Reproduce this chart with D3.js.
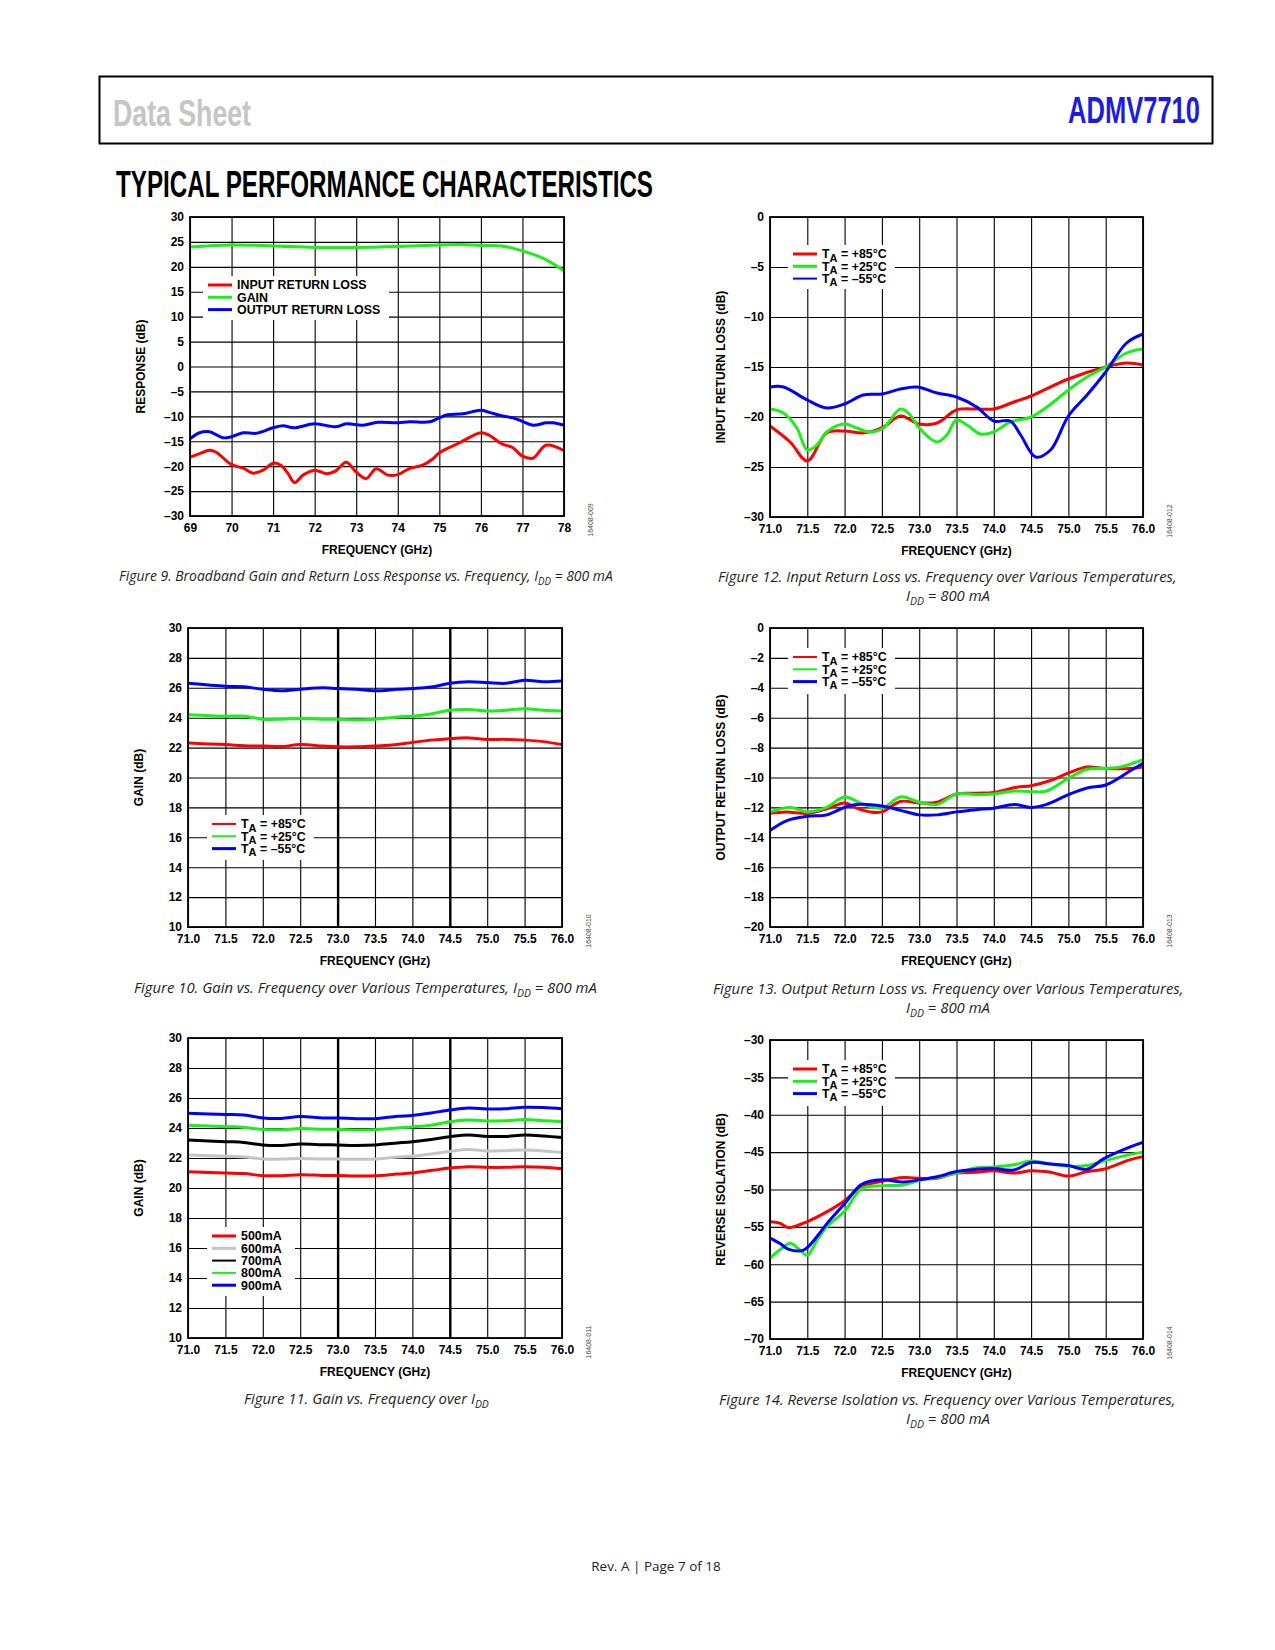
<!DOCTYPE html>
<html>
<head>
<meta charset="utf-8">
<title>ADMV7710 typical performance characteristics</title>
<script src="https://cdn.jsdelivr.net/npm/d3@7/dist/d3.min.js"></script>
<style>
  body { margin: 0; background: #fff; }
  text { font-family: "Liberation Sans", Arial, sans-serif; fill: #000; }
  .tick text { font-size: 12px; font-weight: bold; }
  .ttl { font-size: 12px; font-weight: bold; }
  .leg { font-size: 12.4px; font-weight: bold; }
  .code { font-size: 7px; fill: #444; }
  .cap { font-family: "Open Sans", sans-serif; font-style: italic; font-size: 15px; fill: #231f20; }
</style>
</head>
<body>
<svg id="page" width="1275" height="1650"></svg>
<script>

// ---- figure 9: broadband response, 69 to 78 GHz
let f9_irl_freq = [69.0, 69.23, 69.47, 69.63, 70.0, 70.28, 70.52, 70.76, 71.0, 71.2, 71.36, 71.52, 71.72, 72.0, 72.28, 72.5, 72.76, 73.0, 73.24, 73.48, 73.76, 74.0, 74.28, 74.6, 74.85, 75.0, 75.49, 76.0, 76.2, 76.5, 76.77, 77.0, 77.25, 77.57, 78.0];
let f9_irl = [-18.2, -17.5, -16.8, -17.2, -19.7, -20.4, -21.4, -20.8, -19.4, -19.9, -21.5, -23.3, -21.8, -20.8, -21.5, -21.0, -19.2, -21.2, -22.5, -20.5, -21.8, -21.7, -20.5, -19.8, -18.5, -17.3, -15.3, -13.3, -13.8, -15.5, -16.3, -18.0, -18.4, -15.8, -16.9];
let f9_gain_freq = [69.0, 70.0, 71.0, 72.0, 73.0, 74.0, 75.0, 75.5, 76.0, 76.5, 77.0, 77.5, 78.0];
let f9_gain = [24.0, 24.4, 24.2, 23.9, 23.9, 24.1, 24.4, 24.5, 24.3, 24.2, 23.2, 21.7, 19.2];
let f9_orl_freq = [69.0, 69.23, 69.47, 69.59, 69.79, 70.0, 70.28, 70.6, 71.0, 71.24, 71.5, 72.0, 72.5, 72.76, 73.16, 73.52, 74.0, 74.28, 74.77, 75.0, 75.2, 75.57, 76.0, 76.2, 76.5, 76.77, 77.0, 77.25, 77.57, 77.73, 78.0];
let f9_orl = [-14.5, -13.3, -13.1, -13.5, -14.3, -14.1, -13.3, -13.4, -12.3, -11.9, -12.3, -11.5, -12.1, -11.5, -11.8, -11.2, -11.3, -11.1, -11.1, -10.3, -9.7, -9.5, -8.8, -9.2, -9.9, -10.3, -11.0, -11.8, -11.3, -11.3, -11.8];
let f9_labels = ["INPUT RETURN LOSS", "GAIN", "OUTPUT RETURN LOSS"];

// ---- temperature labels (figs 10, 12, 13, 14)
let temp_labels = ["+85\u00b0C", "+25\u00b0C", "\u201355\u00b0C"];

// ---- figure 12: input return loss vs temperature
let f12_p85_freq = [71.0, 71.27, 71.5, 71.76, 72.0, 72.25, 72.52, 72.75, 73.0, 73.24, 73.5, 73.77, 74.0, 74.27, 74.5, 75.0, 75.5, 75.78, 76.0];
let f12_p85 = [-20.9, -22.5, -24.4, -21.6, -21.4, -21.6, -21.0, -19.9, -20.7, -20.6, -19.3, -19.2, -19.2, -18.5, -17.9, -16.2, -15.0, -14.6, -14.8];
let f12_p25_freq = [71.0, 71.18, 71.36, 71.5, 71.63, 71.76, 72.0, 72.16, 72.34, 72.52, 72.75, 72.88, 73.0, 73.24, 73.37, 73.5, 73.64, 73.82, 74.0, 74.22, 74.5, 74.75, 75.0, 75.25, 75.5, 75.78, 76.0];
let f12_p25 = [-19.2, -19.6, -21.1, -23.3, -22.8, -21.5, -20.7, -21.1, -21.5, -21.1, -19.2, -19.8, -21.1, -22.5, -21.8, -20.3, -20.8, -21.7, -21.5, -20.5, -20.0, -18.8, -17.3, -16.0, -15.0, -13.6, -13.2];
let f12_m55_freq = [71.0, 71.18, 71.5, 71.76, 72.0, 72.25, 72.5, 72.75, 72.97, 73.24, 73.5, 73.77, 74.0, 74.22, 74.36, 74.56, 74.76, 75.0, 75.25, 75.5, 75.78, 76.0];
let f12_m55 = [-17.0, -17.0, -18.3, -19.1, -18.7, -17.8, -17.7, -17.2, -17.0, -17.6, -18.0, -19.0, -20.4, -20.4, -21.8, -24.0, -23.3, -19.9, -17.8, -15.5, -12.6, -11.7];

// ---- figures 10 and 11: gain, common frequency points
let gain_freq = [71.0, 71.5, 71.75, 72.0, 72.25, 72.5, 72.8, 73.0, 73.25, 73.5, 73.8, 74.0, 74.25, 74.5, 74.75, 75.0, 75.25, 75.5, 75.75, 76.0];
let f10_p85 = [22.3, 22.2, 22.13, 22.1, 22.07, 22.2, 22.1, 22.05, 22.05, 22.1, 22.2, 22.35, 22.5, 22.6, 22.65, 22.55, 22.55, 22.5, 22.4, 22.2];
let f10_p25 = [24.2, 24.1, 24.1, 23.9, 23.9, 23.95, 23.9, 23.9, 23.85, 23.9, 24.05, 24.1, 24.25, 24.5, 24.55, 24.45, 24.5, 24.6, 24.5, 24.45];
let f10_m55 = [26.3, 26.1, 26.07, 25.9, 25.8, 25.9, 26.0, 25.95, 25.9, 25.8, 25.9, 25.95, 26.05, 26.3, 26.4, 26.35, 26.3, 26.5, 26.4, 26.45];

let idd_labels = ["500mA", "600mA", "700mA", "800mA", "900mA"];
let f11_500 = [21.09, 21.0, 20.96, 20.82, 20.82, 20.89, 20.84, 20.84, 20.8, 20.82, 20.93, 21.0, 21.16, 21.33, 21.42, 21.38, 21.38, 21.42, 21.38, 21.29];
let f11_600 = [22.2, 22.11, 22.07, 21.93, 21.93, 21.96, 21.93, 21.93, 21.91, 21.93, 22.07, 22.11, 22.27, 22.44, 22.56, 22.47, 22.49, 22.53, 22.47, 22.36];
let f11_700 = [23.2, 23.09, 23.04, 22.87, 22.84, 22.93, 22.89, 22.87, 22.84, 22.87, 23.0, 23.09, 23.24, 23.42, 23.53, 23.44, 23.44, 23.53, 23.47, 23.36];
let f11_800 = [24.18, 24.09, 24.04, 23.9, 23.89, 23.96, 23.91, 23.91, 23.87, 23.89, 24.0, 24.07, 24.18, 24.42, 24.53, 24.47, 24.49, 24.56, 24.49, 24.42];
let f11_900 = [24.98, 24.9, 24.87, 24.67, 24.64, 24.76, 24.67, 24.67, 24.62, 24.62, 24.78, 24.84, 25.0, 25.2, 25.33, 25.27, 25.29, 25.38, 25.36, 25.29];

// ---- figure 13: output return loss vs temperature
let f13_p85_freq = [71.0, 71.22, 71.5, 71.76, 72.0, 72.16, 72.34, 72.5, 72.75, 73.0, 73.24, 73.5, 73.77, 74.0, 74.31, 74.5, 74.76, 75.0, 75.25, 75.5, 75.83, 76.0];
let f13_p85 = [-12.4, -12.3, -12.4, -12.1, -11.7, -12.05, -12.3, -12.3, -11.6, -11.7, -11.65, -11.1, -11.05, -11.0, -10.65, -10.55, -10.2, -9.7, -9.3, -9.4, -9.4, -9.3];
let f13_p25_freq = [71.0, 71.27, 71.5, 71.76, 72.0, 72.25, 72.5, 72.75, 73.0, 73.24, 73.5, 73.77, 74.0, 74.27, 74.5, 74.71, 75.0, 75.25, 75.5, 75.7, 76.0];
let f13_p25 = [-12.3, -12.0, -12.3, -12.0, -11.3, -11.8, -12.05, -11.3, -11.65, -11.8, -11.1, -11.15, -11.1, -10.9, -10.95, -10.9, -10.05, -9.45, -9.4, -9.3, -8.8];
let f13_m55_freq = [71.0, 71.22, 71.5, 71.76, 72.0, 72.16, 72.5, 72.75, 73.0, 73.24, 73.5, 73.77, 74.0, 74.27, 74.5, 74.71, 75.0, 75.25, 75.5, 75.83, 76.0];
let f13_m55 = [-13.55, -12.9, -12.6, -12.5, -12.0, -11.8, -11.9, -12.2, -12.5, -12.5, -12.3, -12.15, -12.05, -11.8, -12.0, -11.8, -11.15, -10.7, -10.5, -9.55, -9.05];

// ---- figure 14: reverse isolation vs temperature
let f14_p85_freq = [71.0, 71.13, 71.25, 71.5, 71.76, 72.0, 72.23, 72.5, 72.79, 73.0, 73.24, 73.5, 73.77, 74.0, 74.27, 74.5, 74.76, 75.0, 75.25, 75.47, 75.83, 76.0];
let f14_p85 = [-54.3, -54.5, -55.1, -54.3, -53.0, -51.5, -49.6, -48.9, -48.4, -48.5, -48.5, -47.8, -47.7, -47.5, -47.8, -47.5, -47.7, -48.2, -47.6, -47.3, -46.0, -45.6];
let f14_p25_freq = [71.0, 71.13, 71.27, 71.38, 71.5, 71.63, 71.76, 72.0, 72.23, 72.5, 72.79, 73.0, 73.24, 73.5, 73.77, 74.0, 74.27, 74.5, 74.76, 75.0, 75.25, 75.47, 75.83, 76.0];
let f14_p25 = [-59.2, -58.1, -57.2, -57.9, -58.8, -56.8, -55.0, -52.9, -49.9, -49.5, -49.4, -48.8, -48.4, -47.8, -47.1, -47.0, -46.7, -46.2, -46.6, -46.9, -46.8, -46.2, -45.3, -45.0];
let f14_m55_freq = [71.0, 71.13, 71.25, 71.45, 71.63, 71.76, 72.0, 72.23, 72.5, 72.79, 73.0, 73.24, 73.5, 73.77, 74.0, 74.27, 74.5, 74.76, 75.0, 75.25, 75.47, 75.83, 76.0];
let f14_m55 = [-56.5, -57.2, -58.0, -58.1, -56.3, -54.6, -51.9, -49.3, -48.7, -49.0, -48.7, -48.3, -47.6, -47.3, -47.2, -47.4, -46.4, -46.6, -46.8, -47.3, -45.9, -44.3, -43.7];


let svgPage = d3.select("#page");
let RED = "#ff0000", GREEN = "#19f019", BLUE = "#0000ff", GRAY = "#c4c4c4", BLACK = "#000000";

function fmt_neg(d){
    return d < 0 ? "\u2013" + Math.abs(d) : "" + d;
};

function pairs(xs, ys){
    let out = [];
    for (let i = 0; i < xs.length; i++){
        out.push([xs[i], ys[i]]);
    };
    return out;
};

// text with a subscript in the middle (T_A, I_DD)
function sub_text(sel, before, sub, after, subSize){
    sel.append("tspan").text(before);
    sel.append("tspan").attr("dy", 3.5).style("font-size", subSize + "px").text(sub);
    if (after) sel.append("tspan").attr("dy", -3.5).text(after);
};

function draw_panel(p){

    let g = svgPage.append("g")
        .attr("transform", "translate(" + p.left + "," + p.top + ")");

    let x = d3.scaleLinear().domain(p.xdom).range([0, p.width]);
    let y = d3.scaleLinear().domain(p.ydom).range([p.height, 0]);
    let heavy = p.heavy || [];

    // grid comes from the axes themselves
    let gx = g.append("g")
        .attr("transform", "translate(0," + p.height + ")")
        .call(d3.axisBottom(x).tickValues(p.xticks).tickFormat(p.xfmt)
              .tickSize(-p.height).tickPadding(7));
    gx.select(".domain").remove();
    gx.selectAll(".tick line")
        .attr("stroke-width", d => heavy.indexOf(d) >= 0 ? 2.4 : 1.1);

    let gy = g.append("g")
        .call(d3.axisLeft(y).tickValues(p.yticks).tickFormat(fmt_neg)
              .tickSize(-p.width).tickPadding(6));
    gy.select(".domain").remove();
    gy.selectAll(".tick line").attr("stroke-width", 1.1);

    let line = d3.line()
        .x(d => x(d[0]))
        .y(d => y(d[1]))
        .curve(d3.curveCatmullRom.alpha(0.5));

    g.selectAll("path.series")
        .data(p.series)
        .enter().append("path")
        .attr("class", "series")
        .attr("d", d => line(pairs(d.x, d.y)))
        .attr("fill", "none")
        .attr("stroke", d => d.color)
        .attr("stroke-width", 3)
        .attr("stroke-linejoin", "round");

    // legend on a white patch over the grid
    let lg = g.append("g").attr("transform", "translate(" + p.legend.x + "," + p.legend.y + ")");
    lg.append("rect")
        .attr("width", p.legend.w).attr("height", p.legend.h)
        .attr("fill", "#fff");
    p.legend.rows.forEach(function(r, i){
        let ry = 9 + i * 12.3;
        lg.append("line")
            .attr("x1", 5).attr("x2", 29).attr("y1", ry).attr("y2", ry)
            .attr("stroke", r.color).attr("stroke-width", r.w);
        let t = lg.append("text").attr("class", "leg")
            .attr("x", 34).attr("y", ry + 4.3);
        if (r.temp){
            sub_text(t, "T", "A", " = " + r.label, 11);
        } else {
            t.text(r.label);
        };
    });

    // frame
    g.append("rect")
        .attr("width", p.width).attr("height", p.height)
        .attr("fill", "none").attr("stroke", "#000").attr("stroke-width", 1.8);

    // axis titles
    g.append("text").attr("class", "ttl")
        .attr("x", p.width / 2).attr("y", p.height + 38)
        .attr("text-anchor", "middle")
        .text("FREQUENCY (GHz)");
    g.append("text").attr("class", "ttl")
        .attr("transform", "translate(-45," + (p.height / 2) + ") rotate(-90)")
        .attr("text-anchor", "middle")
        .text(p.ylabel);

    // figure code along the right side
    g.append("text").attr("class", "code")
        .attr("transform", "translate(" + (p.width + 29) + "," + (p.height + 4) + ") rotate(-90)")
        .attr("text-anchor", "middle")
        .text(p.code);
};

// caption squeezed horizontally to the width it has in the sheet
function caption(x, y, len, before, sub, after){
    let cg = svgPage.append("g").attr("transform", "translate(" + x + "," + y + ")");
    let t = cg.append("text").attr("class", "cap");
    if (sub){
        sub_text(t, before, sub, after, 10.5);
    } else {
        t.text(before);
    };
    let w = t.node().getComputedTextLength();
    if (w > 0) t.attr("transform", "scale(" + (len / w).toFixed(4) + ",1)");
};

function tempRows(wR, wG, wB){
    return [
        {label: temp_labels[0], color: RED, w: wR, temp: true},
        {label: temp_labels[1], color: GREEN, w: wG, temp: true},
        {label: temp_labels[2], color: BLUE, w: wB, temp: true}
    ];
};

// ---- page header
svgPage.append("rect")
    .attr("x", 99.5).attr("y", 76.5).attr("width", 1113).attr("height", 67)
    .attr("fill", "none").attr("stroke", "#000").attr("stroke-width", 2);
svgPage.append("text")
    .attr("x", 113).attr("y", 125.5).attr("textLength", 138).attr("lengthAdjust", "spacingAndGlyphs")
    .style("font-size", "37.5px").style("font-weight", "bold").style("fill", "#c6c6c6")
    .text("Data Sheet");
svgPage.append("text")
    .attr("x", 1068).attr("y", 123).attr("textLength", 132).attr("lengthAdjust", "spacingAndGlyphs")
    .style("font-size", "36px").style("font-weight", "bold").style("fill", "#1c1ce0")
    .text("ADMV7710");
svgPage.append("text")
    .attr("x", 116).attr("y", 197).attr("textLength", 537).attr("lengthAdjust", "spacingAndGlyphs")
    .style("font-size", "36px").style("font-weight", "bold")
    .text("TYPICAL PERFORMANCE CHARACTERISTICS");

let half_ticks = d3.range(71, 76.01, 0.5);

draw_panel({
    left: 190, top: 217, width: 374, height: 299,
    xdom: [69, 78], ydom: [-30, 30],
    xticks: d3.range(69, 78.01, 1), xfmt: d3.format("d"),
    yticks: d3.range(-30, 30.01, 5),
    ylabel: "RESPONSE (dB)", code: "16408-009",
    series: [
        {x: f9_irl_freq, y: f9_irl, color: RED},
        {x: f9_gain_freq, y: f9_gain, color: GREEN},
        {x: f9_orl_freq, y: f9_orl, color: BLUE}
    ],
    legend: {x: 13, y: 59, w: 186, h: 44, rows: [
        {label: f9_labels[0], color: RED, w: 3},
        {label: f9_labels[1], color: GREEN, w: 3},
        {label: f9_labels[2], color: BLUE, w: 3}
    ]}
});

draw_panel({
    left: 770, top: 217, width: 373, height: 300,
    xdom: [71, 76], ydom: [-30, 0],
    xticks: half_ticks, xfmt: d3.format(".1f"),
    yticks: d3.range(-30, 0.01, 5),
    ylabel: "INPUT RETURN LOSS (dB)", code: "16408-012",
    series: [
        {x: f12_p85_freq, y: f12_p85, color: RED},
        {x: f12_p25_freq, y: f12_p25, color: GREEN},
        {x: f12_m55_freq, y: f12_m55, color: BLUE}
    ],
    legend: {x: 18, y: 28, w: 107, h: 44, rows: tempRows(3, 3, 2)}
});

draw_panel({
    left: 188, top: 628, width: 374, height: 299,
    xdom: [71, 76], ydom: [10, 30],
    xticks: half_ticks, xfmt: d3.format(".1f"), heavy: [73, 74.5],
    yticks: d3.range(10, 30.01, 2),
    ylabel: "GAIN (dB)", code: "16408-010",
    series: [
        {x: gain_freq, y: f10_p85, color: RED},
        {x: gain_freq, y: f10_p25, color: GREEN},
        {x: gain_freq, y: f10_m55, color: BLUE}
    ],
    legend: {x: 19, y: 187, w: 107, h: 45, rows: tempRows(2, 2, 3)}
});

draw_panel({
    left: 770, top: 628, width: 373, height: 299,
    xdom: [71, 76], ydom: [-20, 0],
    xticks: half_ticks, xfmt: d3.format(".1f"),
    yticks: d3.range(-20, 0.01, 2),
    ylabel: "OUTPUT RETURN LOSS (dB)", code: "16408-013",
    series: [
        {x: f13_p85_freq, y: f13_p85, color: RED},
        {x: f13_p25_freq, y: f13_p25, color: GREEN},
        {x: f13_m55_freq, y: f13_m55, color: BLUE}
    ],
    legend: {x: 18, y: 20, w: 107, h: 46, rows: tempRows(2, 2, 3)}
});

draw_panel({
    left: 188, top: 1038, width: 374, height: 300,
    xdom: [71, 76], ydom: [10, 30],
    xticks: half_ticks, xfmt: d3.format(".1f"), heavy: [73, 74.5],
    yticks: d3.range(10, 30.01, 2),
    ylabel: "GAIN (dB)", code: "16408-011",
    series: [
        {x: gain_freq, y: f11_500, color: RED},
        {x: gain_freq, y: f11_600, color: GRAY},
        {x: gain_freq, y: f11_700, color: BLACK},
        {x: gain_freq, y: f11_800, color: GREEN},
        {x: gain_freq, y: f11_900, color: BLUE}
    ],
    legend: {x: 19, y: 189, w: 88, h: 69, rows: [
        {label: idd_labels[0], color: RED, w: 3},
        {label: idd_labels[1], color: GRAY, w: 3},
        {label: idd_labels[2], color: BLACK, w: 2},
        {label: idd_labels[3], color: GREEN, w: 2},
        {label: idd_labels[4], color: BLUE, w: 3}
    ]}
});

draw_panel({
    left: 770, top: 1040, width: 373, height: 299,
    xdom: [71, 76], ydom: [-70, -30],
    xticks: half_ticks, xfmt: d3.format(".1f"),
    yticks: d3.range(-70, -29.99, 5),
    ylabel: "REVERSE ISOLATION (dB)", code: "16408-014",
    series: [
        {x: f14_p85_freq, y: f14_p85, color: RED},
        {x: f14_p25_freq, y: f14_p25, color: GREEN},
        {x: f14_m55_freq, y: f14_m55, color: BLUE}
    ],
    legend: {x: 18, y: 20, w: 107, h: 46, rows: tempRows(3, 3, 3)}
});

// ---- captions
caption(119, 581, 494, "Figure 9. Broadband Gain and Return Loss Response vs. Frequency, I", "DD", " = 800 mA");
caption(718, 582, 459, "Figure 12. Input Return Loss vs. Frequency over Various Temperatures,");
caption(906, 601, 84, "I", "DD", " = 800 mA");
caption(134, 993, 463, "Figure 10. Gain vs. Frequency over Various Temperatures, I", "DD", " = 800 mA");
caption(713, 994, 471, "Figure 13. Output Return Loss vs. Frequency over Various Temperatures,");
caption(906, 1013, 84, "I", "DD", " = 800 mA");
caption(244, 1404, 245, "Figure 11. Gain vs. Frequency over I", "DD", "");
caption(719, 1405, 457, "Figure 14. Reverse Isolation vs. Frequency over Various Temperatures,");
caption(906, 1424, 84, "I", "DD", " = 800 mA");

// ---- footer
svgPage.append("text")
    .attr("x", 656).attr("y", 1571).attr("text-anchor", "middle")
    .style("font-family", "'Open Sans', sans-serif").style("font-size", "13.5px").style("fill", "#231f20")
    .text("Rev. A | Page 7 of 18");

</script>
</body>
</html>
